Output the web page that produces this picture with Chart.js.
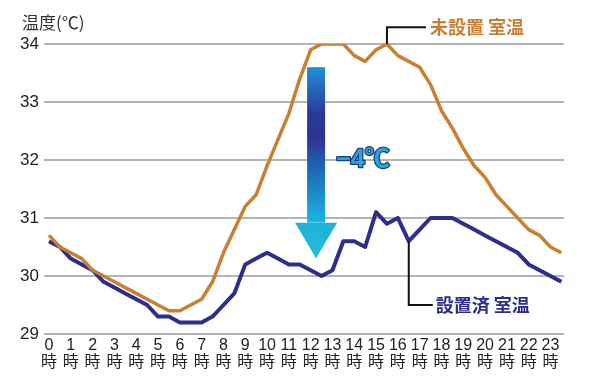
<!DOCTYPE html>
<html lang="ja">
<head>
<meta charset="utf-8">
<title>室温比較</title>
<script src="https://cdn.jsdelivr.net/npm/chart.js@4/dist/chart.umd.min.js"></script>
<style>
  html, body { margin: 0; padding: 0; background: #fff; }
  #wrap { width: 600px; height: 392px; }
</style>
</head>
<body>
<div id="wrap"><canvas id="chart" width="600" height="392"></canvas></div>
<script>
// --- データ（30分ごとの室温, ℃）---
var HOURS = [0, 1, 2, 3, 4, 5, 6, 7, 8, 9, 10, 11, 12, 13, 14, 15, 16, 17, 18, 19, 20, 21, 22, 23];
var TIMES = [0, 0.5, 1, 1.5, 2, 2.5, 3, 3.5, 4, 4.5, 5, 5.5, 6, 6.5, 7, 7.5, 8, 8.5, 9, 9.5, 10, 10.5, 11, 11.5,
             12, 12.5, 13, 13.5, 14, 14.5, 15, 15.5, 16, 16.5, 17, 17.5, 18, 18.5, 19, 19.5, 20, 20.5, 21, 21.5, 22, 22.5, 23, 23.5];
var Y_TICKS = [29, 30, 31, 32, 33, 34];
var NO_UNIT = [30.7, 30.5, 30.4, 30.3, 30.1, 30.0, 29.9, 29.8, 29.7, 29.6, 29.5, 29.4,
               29.4, 29.5, 29.6, 29.9, 30.4, 30.8, 31.2, 31.4, 31.9, 32.35, 32.8, 33.4,
               33.9, 34.0, 34.0, 34.0, 33.8, 33.7, 33.9, 34.0, 33.8, 33.7, 33.6, 33.3,
               32.85, 32.55, 32.2, 31.9, 31.7, 31.4, 31.2, 31.0, 30.8, 30.7, 30.5, 30.4];
var WITH_UNIT = [30.6, 30.5, 30.3, 30.2, 30.1, 29.9, 29.8, 29.7, 29.6, 29.5, 29.3, 29.3,
                 29.2, 29.2, 29.2, 29.3, 29.5, 29.7, 30.2, 30.3, 30.4, 30.3, 30.2, 30.2,
                 30.1, 30.0, 30.1, 30.6, 30.6, 30.5, 31.1, 30.9, 31.0, 30.6, 30.8, 31.0,
                 31.0, 31.0, 30.9, 30.8, 30.7, 30.6, 30.5, 30.4, 30.2, 30.1, 30.0, 29.9];
var LABEL_NO = '未設置 室温';
var LABEL_WITH = '設置済 室温';
var Y_TITLE = '温度(℃)';
var DIFF_TEXT = '−4℃';

var FONT = '"Liberation Sans", "Noto Sans CJK JP", sans-serif';
var CJK = '"Noto Sans CJK JP", "Liberation Sans", sans-serif';
var ORANGE = '#c97f33', NAVY = '#2d2d8c';

function pts(vals) { return vals.map(function (v, i) { return { x: TIMES[i], y: v }; }); }

// 注釈: 矢印・−4℃・凡例の引き出し線・縦軸タイトル
var annotate = {
  id: 'annotate',
  afterDatasetsDraw: function (chart) {
    var ctx = chart.ctx, sx = chart.scales.x, sy = chart.scales.y;
    ctx.save();

    // 縦軸タイトル
    ctx.fillStyle = '#333';
    ctx.font = '17px ' + CJK;
    ctx.textAlign = 'left'; ctx.textBaseline = 'middle';
    ctx.fillText(Y_TITLE, 22, 23);

    // 矢印（グラデーション）
    var cx = sx.getPixelForValue(12.25);
    var top = sy.getPixelForValue(33.6), base = sy.getPixelForValue(30.92), tip = sy.getPixelForValue(30.3);
    var g = ctx.createLinearGradient(0, top, 0, base);
    g.addColorStop(0, '#1f8fd3');
    g.addColorStop(0.3, '#2a3a9a');
    g.addColorStop(0.45, '#2e3192');
    g.addColorStop(0.62, '#1f5fb2');
    g.addColorStop(1, '#1ab6e0');
    ctx.fillStyle = g;
    ctx.fillRect(cx - 9, top, 18, base - top);
    var hg = ctx.createLinearGradient(0, base, 0, tip);
    hg.addColorStop(0, '#1eb0d8');
    hg.addColorStop(1, '#28bcd6');
    ctx.fillStyle = hg;
    ctx.beginPath();
    ctx.moveTo(cx - 21, base); ctx.lineTo(cx + 21, base); ctx.lineTo(cx, tip); ctx.closePath();
    ctx.fill();

    // −4℃
    ctx.font = 'bold 25px ' + FONT;
    ctx.textAlign = 'center'; ctx.textBaseline = 'middle';
    var tx = sx.getPixelForValue(14.4), ty = sy.getPixelForValue(32.0);
    ctx.lineWidth = 2.5; ctx.strokeStyle = '#1b3f73'; ctx.lineJoin = 'round';
    ctx.strokeText(DIFF_TEXT, tx, ty);
    ctx.fillStyle = '#2ba3dc';
    ctx.fillText(DIFF_TEXT, tx, ty);

    // 引き出し線 + ラベル
    ctx.strokeStyle = '#111'; ctx.lineWidth = 2; ctx.lineJoin = 'miter';
    ctx.font = 'bold 18px ' + CJK;
    ctx.textAlign = 'left';

    var ox = sx.getPixelForValue(TIMES[31]), oy = sy.getPixelForValue(NO_UNIT[31]), oly = sy.getPixelForValue(34.29);
    ctx.beginPath(); ctx.moveTo(ox, oy); ctx.lineTo(ox, oly); ctx.lineTo(ox + 39, oly); ctx.stroke();
    ctx.fillStyle = ORANGE; ctx.fillText(LABEL_NO, ox + 43, oly);

    var bx = sx.getPixelForValue(TIMES[33]), by = sy.getPixelForValue(WITH_UNIT[33]), bly = sy.getPixelForValue(29.5);
    ctx.beginPath(); ctx.moveTo(bx, by); ctx.lineTo(bx, bly); ctx.lineTo(bx + 24, bly); ctx.stroke();
    ctx.fillStyle = NAVY; ctx.fillText(LABEL_WITH, bx + 27, bly);

    ctx.restore();
  }
};

var whiteBg = {
  id: 'whiteBg',
  beforeDraw: function (chart) {
    var ctx = chart.ctx;
    ctx.save(); ctx.fillStyle = '#fff'; ctx.fillRect(0, 0, chart.width, chart.height); ctx.restore();
  }
};

new Chart(document.getElementById('chart').getContext('2d'), {
  type: 'line',
  data: {
    datasets: [
      { label: LABEL_NO, data: pts(NO_UNIT), borderColor: ORANGE, borderWidth: 3.5, pointRadius: 0, tension: 0, borderJoinStyle: 'round' },
      { label: LABEL_WITH, data: pts(WITH_UNIT), borderColor: NAVY, borderWidth: 4, pointRadius: 0, tension: 0, borderJoinStyle: 'round' }
    ]
  },
  options: {
    responsive: false, animation: false,
    layout: { padding: { left: 0, right: 36, top: 44, bottom: 0 } },
    plugins: { legend: { display: false }, tooltip: { enabled: false } },
    scales: {
      x: {
        type: 'linear', min: -0.23, max: 23.62,
        grid: { display: false, drawTicks: false }, border: { display: false },
        afterBuildTicks: function (s) { s.ticks = HOURS.map(function (h) { return { value: h }; }); },
        afterFit: function (s) { s.height = 58; },
        ticks: {
          autoSkip: false, maxRotation: 0, padding: 3, color: '#222',
          font: { family: FONT, size: 16, lineHeight: 1.08 },
          callback: function (v) { return [String(v), '時']; }
        }
      },
      y: {
        min: 29, max: 34,
        grid: { color: '#b4b4b4', lineWidth: 2, drawTicks: false }, border: { display: false },
        afterBuildTicks: function (s) { s.ticks = Y_TICKS.map(function (v) { return { value: v }; }); },
        afterFit: function (s) { s.width = 44; },
        ticks: { padding: 5, color: '#222', font: { family: FONT, size: 17 } }
      }
    }
  },
  plugins: [whiteBg, annotate]
});
</script>
</body>
</html>
